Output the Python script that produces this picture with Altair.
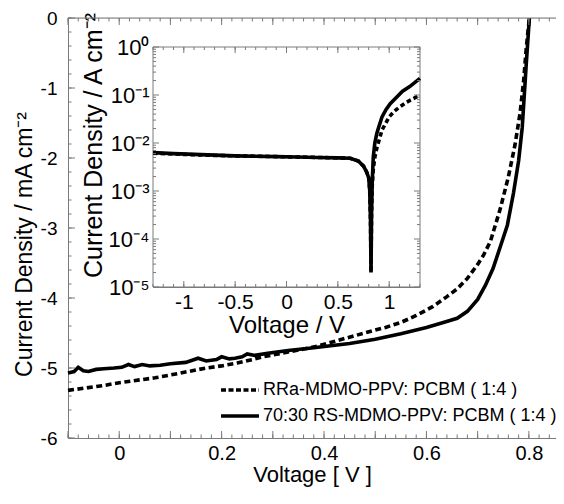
import altair as alt
import numpy as np
import pandas as pd

# ---------------- data ----------------
series_names = ["RRa-MDMO-PPV: PCBM ( 1:4 )", "70:30 RS-MDMO-PPV: PCBM ( 1:4 )"]

# main J-V curves (V, mA cm^-2)
v_rs = [-0.100, -0.088, -0.080, -0.070, -0.060, -0.045, -0.030, -0.010, 0.005, 0.018,
        0.030, 0.045, 0.060, 0.080, 0.100, 0.130, 0.154, 0.170, 0.190, 0.200,
        0.215, 0.226, 0.240, 0.250, 0.265, 0.290, 0.330, 0.380, 0.450, 0.500,
        0.550, 0.600, 0.633, 0.660, 0.680, 0.700, 0.715, 0.730, 0.745, 0.758,
        0.770, 0.780, 0.787, 0.791, 0.795, 0.801]
j_rs = [-5.07, -5.05, -4.99, -5.04, -5.05, -5.02, -5.01, -5.00, -4.99, -4.95,
        -4.98, -4.95, -4.97, -4.96, -4.94, -4.92, -4.86, -4.90, -4.88, -4.84,
        -4.87, -4.86, -4.84, -4.80, -4.82, -4.79, -4.75, -4.71, -4.65, -4.59,
        -4.51, -4.42, -4.35, -4.29, -4.19, -4.02, -3.82, -3.58, -3.25, -2.96,
        -2.50, -2.04, -1.57, -1.11, -0.65, 0.0]

v_rra = [-0.100, -0.060, -0.030, 0.000, 0.040, 0.070, 0.100, 0.135, 0.170, 0.200,
         0.230, 0.260, 0.280, 0.310, 0.330, 0.360, 0.386, 0.430, 0.484, 0.520,
         0.550, 0.580, 0.613, 0.640, 0.660, 0.680, 0.700, 0.712, 0.725, 0.744,
         0.760, 0.773, 0.783, 0.790, 0.795, 0.801]
j_rra = [-5.32, -5.28, -5.25, -5.21, -5.17, -5.14, -5.10, -5.05, -5.00, -4.97,
         -4.93, -4.88, -4.84, -4.80, -4.77, -4.73, -4.69, -4.60, -4.49, -4.42,
         -4.35, -4.25, -4.12, -3.98, -3.87, -3.72, -3.52, -3.38, -3.19, -2.73,
         -2.27, -1.81, -1.35, -0.88, -0.42, 0.0]

# inset |J| (A cm^-2) on log scale
v_in_rs = [-1.30, -1.10, -0.90, -0.70, -0.50, -0.30, -0.10, 0.10, 0.30, 0.50,
           0.62, 0.70, 0.75, 0.78, 0.80, 0.81, 0.818, 0.823, 0.828, 0.835,
           0.845, 0.86, 0.88, 0.90, 0.93, 0.97, 1.01, 1.06, 1.13, 1.20, 1.26, 1.30]
j_in_rs = [6.3e-3, 6.0e-3, 5.8e-3, 5.6e-3, 5.4e-3, 5.3e-3, 5.2e-3, 5.1e-3, 5.0e-3, 4.9e-3,
           4.8e-3, 4.2e-3, 3.3e-3, 2.5e-3, 1.9e-3, 1.1e-3, 2.5e-4, 2.0e-5, 3.2e-4, 1.6e-3,
           5.1e-3, 1.0e-2, 1.6e-2, 2.2e-2, 3.5e-2, 5.0e-2, 6.6e-2, 8.5e-2, 1.2e-1, 1.5e-1, 1.9e-1, 2.2e-1]

v_in_rra = [-1.30, -1.10, -0.90, -0.70, -0.50, -0.30, -0.10, 0.10, 0.30, 0.50,
            0.62, 0.70, 0.75, 0.78, 0.80, 0.81, 0.818, 0.823, 0.828, 0.835,
            0.845, 0.86, 0.88, 0.93, 1.00, 1.05, 1.10, 1.17, 1.24, 1.30]
j_in_rra = [6.1e-3, 5.9e-3, 5.7e-3, 5.5e-3, 5.4e-3, 5.3e-3, 5.2e-3, 5.1e-3, 5.0e-3, 4.9e-3,
            4.8e-3, 4.2e-3, 3.3e-3, 2.5e-3, 1.9e-3, 1.1e-3, 2.5e-4, 2.0e-5, 3.2e-4, 1.3e-3,
            2.8e-3, 5.0e-3, 7.9e-3, 1.86e-2, 3.5e-2, 4.6e-2, 5.6e-2, 7.1e-2, 8.5e-2, 1.0e-1]

main_x_ticks = [0, 0.2, 0.4, 0.6, 0.8]
main_y_ticks = [-6, -5, -4, -3, -2, -1, 0]
inset_x_ticks = [-1, -0.5, 0, 0.5, 1]
inset_y_ticks = [1e-5, 1e-4, 1e-3, 1e-2, 1e-1, 1]

# ---------------- layout ----------------
W, H = 488, 420
AX = "#7a7a7a"
FONT = "Liberation Sans"
main_xs = alt.Scale(domain=[-0.1, 0.853], nice=False, zero=False)
main_ys = alt.Scale(domain=[-6, 0], nice=False, zero=False)
IX0, IX1, IY0, IY1 = 85, 352, 269, 29
in_xs = alt.Scale(domain=[-1.3, 1.3], range=[IX0, IX1], nice=False, zero=False)
in_ys = alt.Scale(type="log", domain=[1e-5, 1], range=[IY0, IY1], nice=False)

df_rs = pd.DataFrame({"V": v_rs, "J": j_rs})
df_rra = pd.DataFrame({"V": v_rra, "J": j_rra})
df_in_rs = pd.DataFrame({"V": v_in_rs, "J": j_in_rs})
df_in_rra = pd.DataFrame({"V": v_in_rra, "J": j_in_rra})

main_x_axis = alt.Axis(orient="bottom", values=main_x_ticks, labelExpr="toString(datum.value)",
                       title="Voltage [ V ]", labelFontSize=20, labelPadding=5,
                       titleFontSize=22, titleY=36, titleBaseline="middle", titleAlign="center",
                       ticks=False)
main_y_axis = alt.Axis(orient="left", values=main_y_ticks, labelExpr="toString(datum.value)",
                       title="Current Density / mA cm\u207b\u00b2", labelFontSize=19, labelPadding=11,
                       titleFontSize=23, titleX=-44, titleY=226, titleBaseline="middle",
                       titleAlign="center", titleAngle=-90, ticks=False)

sup = "['\u2070','\u207b\u00b9','\u207b\u00b2','\u207b\u00b3','\u207b\u2074','\u207b\u2075']"
in_x_axis = alt.Axis(orient="bottom", offset=-(H - IY0), values=inset_x_ticks,
                     labelExpr="toString(datum.value)", title="Voltage / V",
                     labelFontSize=21, labelPadding=4, titleFontSize=24, titleY=38,
                     titleBaseline="middle", titleAlign="center", ticks=False)
in_y_axis = alt.Axis(orient="left", offset=-IX0, values=inset_y_ticks,
                     labelExpr="'10' + " + sup + "[round(-log(datum.value)/LN10)]",
                     title="Current Density / A cm\u207b\u00b2", labelFontSize=22, labelPadding=4,
                     titleFontSize=25, titleX=-60, titleY=127, titleBaseline="middle",
                     titleAlign="center", titleAngle=-90, ticks=False)

line_rs = alt.Chart(df_rs).mark_line(color="black", strokeWidth=3.6).encode(
    x=alt.X("V:Q", scale=main_xs, axis=main_x_axis),
    y=alt.Y("J:Q", scale=main_ys, axis=main_y_axis),
)
line_rra = alt.Chart(df_rra).mark_line(color="black", strokeWidth=3.6, strokeDash=[6, 3.5]).encode(
    x=alt.X("V:Q", scale=main_xs, axis=main_x_axis),
    y=alt.Y("J:Q", scale=main_ys, axis=main_y_axis),
)


def xticks(vals, scale, axis, y0, length, color=AX):
    return alt.Chart(pd.DataFrame({"t": vals})).mark_rule(color=color, strokeWidth=1).encode(
        x=alt.X("t:Q", scale=scale, axis=axis),
        y=alt.value(y0), y2=alt.value(y0 + length))


def yticks(vals, scale, axis, x0, length, color=AX):
    return alt.Chart(pd.DataFrame({"t": vals})).mark_rule(color=color, strokeWidth=1).encode(
        y=alt.Y("t:Q", scale=scale, axis=axis),
        x=alt.value(x0), x2=alt.value(x0 + length))


mx_minor = list(np.round(np.arange(-0.1, 0.86, 0.02), 3))
mx_major = list(np.round(np.arange(-0.1, 0.86, 0.1), 3))
my_minor = list(np.round(np.arange(-6, 0.01, 0.2), 3))

one = pd.DataFrame({"k": [0]})
top_line = alt.Chart(one).mark_rule(color=AX, strokeWidth=1).encode(
    x=alt.value(0), x2=alt.value(W), y=alt.value(0))

# manual legend
LY1, LY2 = 372, 398
leg_dash = alt.Chart(one).mark_rule(color="black", strokeWidth=3.6, strokeDash=[5, 2.5]).encode(
    x=alt.value(153), x2=alt.value(191), y=alt.value(LY1))
leg_solid = alt.Chart(one).mark_rule(color="black", strokeWidth=3.6).encode(
    x=alt.value(153), x2=alt.value(191), y=alt.value(LY2))
leg_t1 = alt.Chart(pd.DataFrame({"s": [series_names[0]]})).mark_text(
    align="left", baseline="middle", fontSize=18, font=FONT, color="black").encode(
    text="s:N", x=alt.value(195), y=alt.value(LY1))
leg_t2 = alt.Chart(pd.DataFrame({"s": [series_names[1]]})).mark_text(
    align="left", baseline="middle", fontSize=18, font=FONT, color="black").encode(
    text="s:N", x=alt.value(195), y=alt.value(LY2))

main = alt.layer(
    line_rs, line_rra,
    xticks(mx_minor, main_xs, main_x_axis, H, -3.5), xticks(mx_major, main_xs, main_x_axis, H, -7),
    xticks(mx_minor, main_xs, main_x_axis, 0, 3.5), xticks(mx_major, main_xs, main_x_axis, 0, 7),
    yticks(my_minor, main_ys, main_y_axis, 0, 3.5), yticks(main_y_ticks, main_ys, main_y_axis, 0, 7),
    top_line, leg_dash, leg_solid, leg_t1, leg_t2,
)

# ---------------- inset ----------------
frame = alt.Chart(pd.DataFrame({"x0": [-1.3], "x1": [1.3], "y0": [1e-5], "y1": [1.0]})).mark_rect(
    fill="white", stroke=AX, strokeWidth=1).encode(
    x=alt.X("x0:Q", scale=in_xs, axis=in_x_axis), x2="x1:Q",
    y=alt.Y("y0:Q", scale=in_ys, axis=in_y_axis), y2="y1:Q")

in_rs = alt.Chart(df_in_rs).mark_line(color="black", strokeWidth=3.6).encode(
    x=alt.X("V:Q", scale=in_xs, axis=in_x_axis),
    y=alt.Y("J:Q", scale=in_ys, axis=in_y_axis),
)
in_rra = alt.Chart(df_in_rra).mark_line(color="black", strokeWidth=3.6, strokeDash=[4.5, 3]).encode(
    x=alt.X("V:Q", scale=in_xs, axis=in_x_axis),
    y=alt.Y("J:Q", scale=in_ys, axis=in_y_axis),
)

ix_minor = list(np.round(np.arange(-1.3, 1.31, 0.1), 3))
iy_minor = [m * 10.0 ** e for e in range(-5, 0) for m in range(2, 10)]

inset = alt.layer(
    frame, in_rra, in_rs,
    xticks(ix_minor, in_xs, in_x_axis, IY0, -3), xticks(inset_x_ticks, in_xs, in_x_axis, IY0, -6),
    xticks(ix_minor, in_xs, in_x_axis, IY1, 3), xticks(inset_x_ticks, in_xs, in_x_axis, IY1, 6),
    yticks(iy_minor, in_ys, in_y_axis, IX0, 3), yticks(inset_y_ticks, in_ys, in_y_axis, IX0, 6),
    yticks(iy_minor, in_ys, in_y_axis, IX1, -3), yticks(inset_y_ticks, in_ys, in_y_axis, IX1, -6),
)

chart = alt.layer(main, inset).resolve_scale(x="independent", y="independent").properties(
    width=W, height=H,
    padding={"left": 60, "top": 10, "right": 0, "bottom": 54},
    autosize=alt.AutoSizeParams(type="none"),
).configure_view(stroke=None).configure(font=FONT).configure_axis(
    grid=False, domainColor=AX, domainWidth=1, labelColor="black", titleColor="black",
    titleFontWeight="normal", labelFont=FONT, titleFont=FONT,
)

chart.save("out.html", embed_options={"renderer": "svg", "actions": False})
